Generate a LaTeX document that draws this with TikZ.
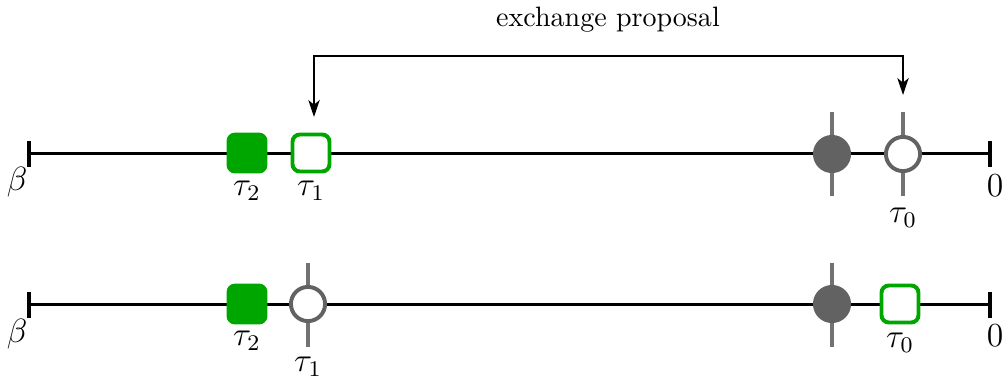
\documentclass[tikz,border=0pt]{standalone}
\usetikzlibrary{arrows.meta}
\definecolor{mkgreen}{RGB}{0,166,0}
\definecolor{mkgray}{RGB}{98,98,98}
\begin{document}
\begin{tikzpicture}[x=0.357pt,y=-0.357pt,
  axis/.style={line width=1.1pt,black},
  tick/.style={line width=1.1pt,black},
  greenfull/.style={draw=none,fill=mkgreen,minimum size=14.6pt,inner sep=0pt,rounded corners=3pt},
  greenopen/.style={draw=mkgreen,fill=white,line width=1.4pt,minimum size=13.2pt,inner sep=0pt,rounded corners=2.6pt},
  grayfull/.style={circle,draw=none,fill=mkgray,minimum size=13.6pt,inner sep=0pt},
  grayopen/.style={circle,draw=mkgray,fill=white,line width=1.4pt,minimum size=12.2pt,inner sep=0pt},
  stem/.style={line width=1.15pt,mkgray!90},
  lbl/.style={inner sep=0pt,font=\large},
  exch/.style={line width=0.9pt,black,{Stealth[length=6pt,width=4pt,inset=1.6pt]}-{Stealth[length=6pt,width=4pt,inset=1.6pt]}}
]
\useasboundingbox (0,0) rectangle (1002,381);

% ---- upper axis ----
\coordinate (aL) at (29,153.5);
\coordinate (aR) at (990,153.5);
\draw[axis] (aL) -- (aR);
\draw[tick] (29,141) -- (29,167);
\draw[tick] (990,141) -- (990,167);
\node[lbl] (betaA) at (17,182) {$\beta$};
\node[lbl] (zeroA) at (995,186) {$0$};

\draw[stem] (832,112) -- (832,196);
\draw[stem] (903,112) -- (903,196);
\node[greenfull] (sqA2) at (247,153) {};
\node[greenopen] (sqA1) at (311,153) {};
\node[grayfull]  (ciA3) at (832,154) {};
\node[grayopen]  (ciA0) at (903,154) {};
\node[lbl] (tA2) at (247,191) {$\tau_2$};
\node[lbl] (tA1) at (311,191) {$\tau_1$};
\node[lbl] (tA0) at (903,218) {$\tau_0$};

% ---- exchange arrow ----
\coordinate (exL) at (314,117);
\coordinate (exR) at (903,95);
\draw[exch] (exL) |- (903,56) -- (exR);
\node[inner sep=0pt] (exlabel) at (608,20) {exchange proposal};

% ---- lower axis ----
\coordinate (bL) at (29,304.5);
\coordinate (bR) at (990,304.5);
\draw[axis] (bL) -- (bR);
\draw[tick] (29,292) -- (29,318);
\draw[tick] (990,292) -- (990,318);
\node[lbl] (betaB) at (17,334) {$\beta$};
\node[lbl] (zeroB) at (995,336) {$0$};

\draw[stem] (308,263) -- (308,347);
\draw[stem] (832,263) -- (832,347);
\node[greenfull] (sqB2) at (247,304) {};
\node[grayopen]  (ciB1) at (308,304) {};
\node[grayfull]  (ciB3) at (832,304) {};
\node[greenopen] (sqB0) at (900,304) {};
\node[lbl] (tB2) at (247,341) {$\tau_2$};
\node[lbl] (tB1) at (308,367) {$\tau_1$};
\node[lbl] (tB0) at (900,343) {$\tau_0$};
\end{tikzpicture}
\end{document}
